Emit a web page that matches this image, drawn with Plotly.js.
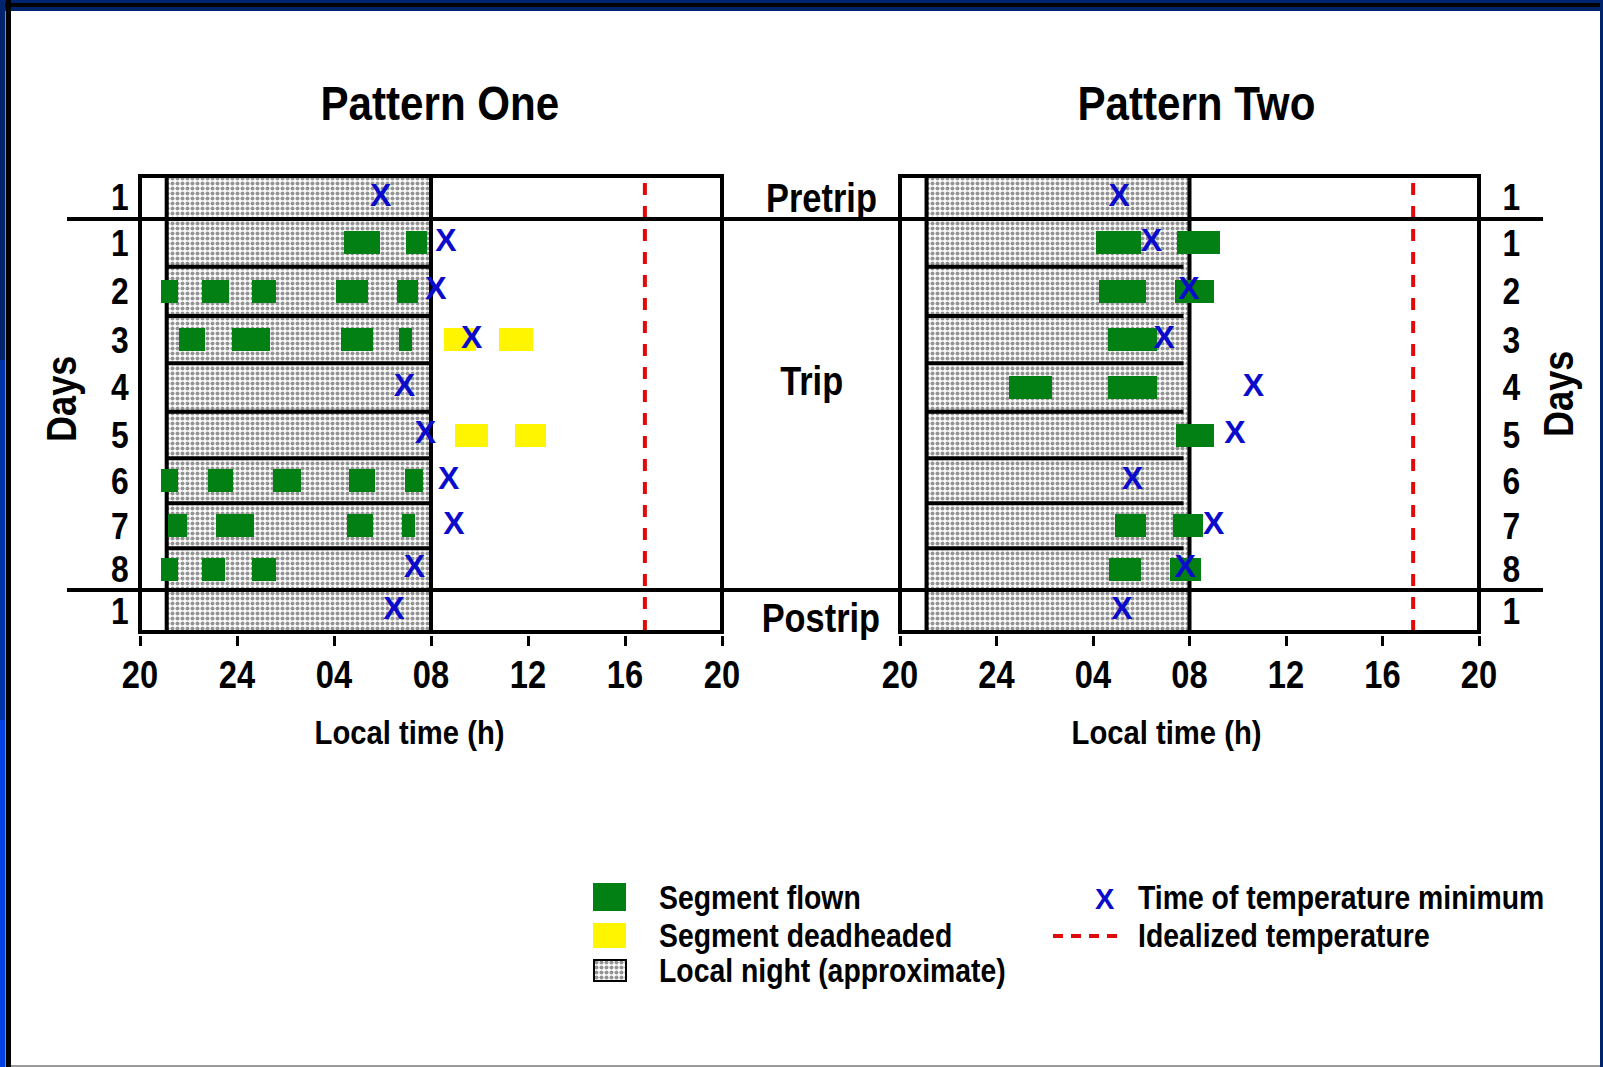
<!DOCTYPE html>
<html>
<head>
<meta charset="utf-8">
<script src="https://cdn.plot.ly/plotly-3.0.1.min.js"></script>
<style>
  html, body { margin: 0; padding: 0; background: #ffffff; }
  #chart { width: 1603px; height: 1067px; }
</style>
</head>
<body>
<div id="chart"></div>
<script>
// ---- Rows, top to bottom: pretrip day, trip days 1-8, postrip day ----
const rowTickText = ['1', '1', '2', '3', '4', '5', '6', '7', '8', '1'];

// ---- Time axis: hours counted from 20:00 the evening before (28 = 04:00, 32 = 08:00) ----
const timeTickVals = [20, 24, 28, 32, 36, 40, 44];
const timeTickText = ['20', '24', '04', '08', '12', '16', '20'];
const nightStart = 21.1;
const nightEnd = 32;

// ---- Pattern One ----
const p1FlownRow   = [1, 1, 2, 2, 2, 2, 2, 3, 3, 3, 3, 6, 6, 6, 6, 6, 7, 7, 7, 7, 8, 8, 8];
const p1FlownStart = [28.40, 30.95, 20.85, 22.55, 24.62, 28.10, 30.58, 21.60, 23.78, 28.30, 30.70,
                      20.85, 22.80, 25.50, 28.62, 30.92, 21.17, 23.12, 28.53, 30.80, 20.85, 22.55, 24.62];
const p1FlownEnd   = [29.90, 31.82, 21.55, 23.65, 25.60, 29.40, 31.45, 22.68, 25.35, 29.60, 31.20,
                      21.55, 23.85, 26.65, 29.70, 31.65, 21.92, 24.72, 29.60, 31.33, 21.55, 23.52, 25.60];
const p1DeadRow    = [3, 3, 5, 5];
const p1DeadStart  = [32.52, 34.82, 32.98, 35.48];
const p1DeadEnd    = [33.85, 36.20, 34.35, 36.73];
const p1TminRow    = [0, 1, 2, 3, 4, 5, 6, 7, 8, 9];
const p1Tmin       = [29.92, 32.62, 32.20, 33.68, 30.90, 31.77, 32.73, 32.95, 31.32, 30.47];
const p1IdealTime  = 40.82;

// ---- Pattern Two ----
const p2FlownRow   = [1, 1, 2, 2, 3, 4, 4, 5, 7, 7, 8, 8];
const p2FlownStart = [28.13, 31.50, 28.24, 31.40, 28.64, 24.52, 28.64, 31.42, 28.90, 31.30, 28.66, 31.20];
const p2FlownEnd   = [30.00, 33.25, 30.20, 33.03, 30.64, 26.30, 30.64, 33.03, 30.20, 32.58, 29.98, 32.48];
const p2TminRow    = [0, 1, 2, 3, 4, 5, 6, 7, 8, 9];
const p2Tmin       = [29.08, 30.42, 31.98, 30.95, 34.65, 33.88, 29.63, 33.00, 31.82, 29.20];
const p2IdealTime  = 41.27;

// ---- Vertical layout: the day axis runs in page pixels (negated), rows separated at these edges ----
const ROW_EDGES = [176, 219, 266.7, 316, 363.3, 411.7, 458.3, 503.3, 548.3, 590, 632];
const Y_TOP = -ROW_EDGES[0], Y_BOT = -ROW_EDGES[ROW_EDGES.length - 1];
const BAR_H = 23;
function rowY(i) { return -(ROW_EDGES[i] + ROW_EDGES[i + 1]) / 2; }
const rowCenters = rowTickText.map((_, i) => rowY(i));

// ---- Styling ----
const W = 1603, H = 1067;
const px = v => v / W;           // page pixel -> paper x
const py = v => 1 - v / H;       // page pixel -> paper y
const FONT = 'Liberation Sans, Arial, sans-serif';
const TEXT_SQUEEZE = 0.86;       // labels are set in a condensed face
const GREEN = '#038013';
const YELLOW = '#FFF500';
const BLUE = '#0B0BCB';
const RED = '#E10A0A';
const nightPattern = { shape: '.', fgcolor: '#2a2a2a', bgcolor: '#ffffff', size: 5, solidity: 0.52, fillmode: 'overlay' };

function panelTraces(xa, ya, flown, dead, tmin, ideal, sepEnd) {
  const tr = [];
  // local night band
  tr.push({
    type: 'bar', orientation: 'h', xaxis: xa, yaxis: ya,
    y: [(Y_TOP + Y_BOT) / 2], base: [nightStart], x: [nightEnd - nightStart],
    width: [Y_TOP - Y_BOT],
    marker: { color: '#ffffff', line: { width: 0 }, pattern: nightPattern },
    hoverinfo: 'skip', showlegend: false, zorder: 0
  });
  // night boundaries and separators between trip days
  const lx = [nightStart, nightStart, null, nightEnd, nightEnd];
  const ly = [Y_BOT, Y_TOP, null, Y_BOT, Y_TOP];
  for (let b = 2; b <= 8; b++) { lx.push(null, nightStart, sepEnd); ly.push(null, -ROW_EDGES[b], -ROW_EDGES[b]); }
  tr.push({
    type: 'scatter', mode: 'lines', xaxis: xa, yaxis: ya, x: lx, y: ly,
    line: { color: '#000000', width: 4 }, hoverinfo: 'skip', showlegend: false, zorder: 1
  });
  // idealized temperature
  tr.push({
    type: 'scatter', mode: 'lines', xaxis: xa, yaxis: ya,
    x: [ideal, ideal], y: [Y_BOT, Y_TOP],
    line: { color: RED, width: 4, dash: '12px,11px' }, hoverinfo: 'skip', showlegend: false, zorder: 1
  });
  // flight segments
  tr.push({
    type: 'bar', orientation: 'h', xaxis: xa, yaxis: ya,
    y: flown.row.map(rowY), base: flown.start, x: flown.end.map((e, i) => e - flown.start[i]),
    width: BAR_H, marker: { color: GREEN, line: { width: 0 } },
    hoverinfo: 'skip', showlegend: false, zorder: 2
  });
  if (dead) {
    tr.push({
      type: 'bar', orientation: 'h', xaxis: xa, yaxis: ya,
      y: dead.row.map(rowY), base: dead.start, x: dead.end.map((e, i) => e - dead.start[i]),
      width: BAR_H, marker: { color: YELLOW, line: { width: 0 } },
      hoverinfo: 'skip', showlegend: false, zorder: 2
    });
  }
  // temperature minimum
  tr.push({
    type: 'scatter', mode: 'text', xaxis: xa, yaxis: ya,
    x: tmin.time, y: tmin.row.map(rowY), text: tmin.time.map(() => 'X'),
    textposition: 'middle center',
    textfont: { family: FONT, size: 32, weight: 700, color: BLUE },
    cliponaxis: false, hoverinfo: 'skip', showlegend: false, zorder: 3
  });
  return tr;
}

const data = [
  ...panelTraces('x', 'y',
    { row: p1FlownRow, start: p1FlownStart, end: p1FlownEnd },
    { row: p1DeadRow, start: p1DeadStart, end: p1DeadEnd },
    { row: p1TminRow, time: p1Tmin }, p1IdealTime, nightEnd),
  ...panelTraces('x2', 'y2',
    { row: p2FlownRow, start: p2FlownStart, end: p2FlownEnd },
    null,
    { row: p2TminRow, time: p2Tmin }, p2IdealTime, nightEnd - 0.25),
  // legend swatch for the night pattern
  {
    type: 'bar', orientation: 'h', xaxis: 'x3', yaxis: 'y3',
    y: [0.5], base: [0], x: [1], width: [1],
    marker: { color: '#ffffff', line: { width: 0 }, pattern: nightPattern },
    hoverinfo: 'skip', showlegend: false
  }
];

const tickFont = { family: FONT, size: 38, weight: 700, color: '#000' };
const yTickFont = { family: FONT, size: 37, weight: 700, color: '#000' };

function timeAxis(domain, anchor) {
  return {
    domain: domain, anchor: anchor, range: [20, 44], fixedrange: true,
    tickmode: 'array', tickvals: timeTickVals, ticktext: timeTickText,
    ticks: 'outside', ticklen: 10, tickwidth: 3, tickcolor: '#000',
    showline: true, linewidth: 4, linecolor: '#000', mirror: true,
    showgrid: false, zeroline: false, tickfont: tickFont, ticklabelstandoff: -4
  };
}
function dayAxis(anchor, side, standoff) {
  return {
    domain: [py(632), py(176)], anchor: anchor, side: side, range: [Y_BOT, Y_TOP], fixedrange: true,
    tickmode: 'array', tickvals: rowCenters, ticktext: rowTickText, ticks: '',
    showline: true, linewidth: 4, linecolor: '#000', mirror: true,
    showgrid: false, zeroline: false, tickfont: yTickFont, ticklabelstandoff: standoff
  };
}

function label(text, x, y, size, opts) {
  return Object.assign({
    text: text, xref: 'paper', yref: 'paper', x: px(x), y: py(y),
    xanchor: 'center', yanchor: 'middle', showarrow: false,
    font: { family: FONT, size: size, weight: 700, color: '#000' }
  }, opts || {});
}
const LEFT = { xanchor: 'left', align: 'left' };

const annotations = [
  label('Pattern One', 440, 103, 49),
  label('Pattern Two', 1196, 103, 49),
  label('Pretrip', 821, 198, 40),
  label('Trip', 811, 381, 40),
  label('Postrip', 821, 618, 40),
  label('Days', 61, 399, 42, { textangle: -90 }),
  label('Days', 1558, 394, 42, { textangle: -90 }),
  label('Local time (h)', 409, 732, 34),
  label('Local time (h)', 1166, 732, 34),
  label('Segment flown', 657, 897, 33, LEFT),
  label('Segment deadheaded', 657, 935, 33, LEFT),
  label('Local night (approximate)', 657, 970, 33, LEFT),
  label('Time of temperature minimum', 1136, 897, 33, LEFT),
  label('Idealized temperature', 1136, 935, 33, LEFT),
  label('X', 1105, 899, 29, { font: { family: FONT, size: 29, weight: 700, color: BLUE } })
];

function rect(x0, y0, x1, y1, color) {
  return { type: 'rect', xref: 'paper', yref: 'paper', x0: px(x0), x1: px(x1), y0: py(y1), y1: py(y0),
           fillcolor: color, line: { width: 0 }, layer: 'above' };
}
function frame(xr, yr, width) {
  return { type: 'rect', xref: xr + ' domain', yref: yr + ' domain', x0: 0, x1: 1, y0: 0, y1: 1,
           fillcolor: 'rgba(0,0,0,0)', line: { color: '#000', width: width }, layer: 'above' };
}

const shapes = [
  // panel outlines
  frame('x', 'y', 4),
  frame('x2', 'y2', 4),
  frame('x3', 'y3', 2),
  // pretrip / postrip dividers running across both panels
  { type: 'line', xref: 'paper', yref: 'y', x0: px(67), x1: px(1543), y0: -ROW_EDGES[1], y1: -ROW_EDGES[1],
    line: { color: '#000', width: 4 }, layer: 'above' },
  { type: 'line', xref: 'paper', yref: 'y', x0: px(67), x1: px(1543), y0: -ROW_EDGES[9], y1: -ROW_EDGES[9],
    line: { color: '#000', width: 4 }, layer: 'above' },
  // legend swatches
  rect(593, 883, 626, 911, GREEN),
  rect(593, 923, 626, 948, YELLOW),
  { type: 'line', xref: 'paper', yref: 'paper', x0: px(1053), x1: px(1125), y0: py(936), y1: py(936),
    line: { color: RED, width: 4, dash: '10px,8px' }, layer: 'above' },
  // slide frame
  rect(0, 0, 1603, 11, '#00236E'),
  rect(0, 3, 1603, 7, '#000000'),
  rect(0, 0, 5, 360, '#00236E'),
  rect(0, 360, 5, 720, '#0033AA'),
  rect(0, 720, 5, 1067, '#0042E0'),
  rect(5, 11, 6, 1067, '#8a8a8a'),
  rect(6, 0, 11, 1067, '#000000'),
  rect(1600, 0, 1603, 1067, '#00236E'),
  rect(11, 1065, 1600, 1067, '#9a9a9a')
];

const layout = {
  width: W, height: H,
  margin: { l: 0, r: 0, t: 0, b: 0, pad: 0 },
  paper_bgcolor: '#ffffff', plot_bgcolor: 'rgba(0,0,0,0)',
  showlegend: false, barmode: 'overlay', bargap: 0,
  xaxis: timeAxis([px(140), px(722)], 'y'),
  yaxis: dayAxis('x', 'left', 0),
  xaxis2: timeAxis([px(900), px(1479)], 'y2'),
  yaxis2: dayAxis('x2', 'right', 12),
  xaxis3: { domain: [px(594), px(626)], anchor: 'y3', range: [0, 1], showline: false,
            showticklabels: false, ticks: '', showgrid: false, zeroline: false, fixedrange: true },
  yaxis3: { domain: [py(981), py(960)], anchor: 'x3', range: [0, 1], showline: false,
            showticklabels: false, ticks: '', showgrid: false, zeroline: false, fixedrange: true },
  annotations: annotations,
  shapes: shapes
};

Plotly.newPlot('chart', data, layout, { displayModeBar: false, staticPlot: true }).then(gd => {
  // narrow the lettering horizontally about each label's own anchor point
  gd.querySelectorAll('.xtick text, .x2tick text, .ytick text, .y2tick text, .annotation-text').forEach(t => {
    if (t.textContent === 'X') return;
    const x = parseFloat(t.getAttribute('x')) || 0;
    const prev = t.getAttribute('transform') || '';
    t.setAttribute('transform', prev + ' translate(' + x + ',0) scale(' + TEXT_SQUEEZE + ',1) translate(' + (-x) + ',0)');
  });
});
</script>
</body>
</html>
